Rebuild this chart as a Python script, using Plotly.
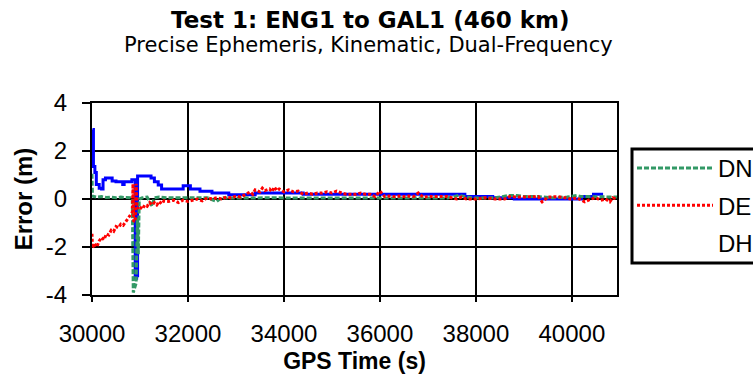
import plotly.graph_objects as go

# ---------------- data ----------------
DN_T = [
    30000, 30010, 30100, 30200, 30300, 30400, 30500, 30600, 30700, 30800,
    30840, 30860, 30890, 30920, 30945, 30965, 30985, 31050, 31150, 31250,
    31300, 31400, 31600, 31800, 32000, 32200, 32400, 32600, 32700, 32900,
    33200, 33500, 33800, 34100, 34400, 34700, 35000, 35300, 35600, 35900,
    36200, 36500, 36800, 37100, 37400, 37650, 37900, 38100, 38400, 38700,
    38850, 39000, 39300, 39600, 39900, 40100, 40200, 40350, 40600, 40940]
DN_V = [
    1.05, 0.12, 0.08, 0.1, 0.06, 0.08, 0.05, 0.08, 0.06, 0.05,
    0.0, -3.9, -3.7, -3.5, -0.8, -2.3, 0.0, 0.05, 0.08, -0.3,
    0.05, 0.08, 0.05, 0.05, 0.04, 0.05, 0.05, -0.1, 0.05, 0.04,
    0.05, 0.04, 0.05, 0.04, 0.04, 0.04, 0.04, 0.05, 0.04, 0.04,
    0.04, 0.04, 0.04, 0.05, 0.04, 0.15, 0.05, 0.04, 0.05, 0.15,
    0.15, 0.1, 0.1, 0.05, 0.08, 0.15, 0.1, 0.1, 0.1, 0.08]

DE_T = [
    30000, 30010, 30050, 30100, 30150, 30200, 30250, 30300, 30350, 30400,
    30450, 30500, 30550, 30600, 30650, 30700, 30750, 30800, 30840, 30855,
    30870, 30900, 30920, 30940, 30980, 31050, 31100, 31150, 31200, 31250,
    31300, 31350, 31400, 31450, 31500, 31600, 31700, 31800, 31900, 32000,
    32100, 32200, 32300, 32400, 32500, 32600, 32700, 32800, 32900, 33000,
    33100, 33200, 33300, 33350, 33400, 33500, 33550, 33600, 33700, 33750,
    33800, 33850, 33900, 34000, 34100, 34200, 34300, 34400, 34500, 34600,
    34700, 34800, 34900, 35000, 35100, 35200, 35300, 35400, 35500, 35600,
    35700, 35800, 35900, 36000, 36100, 36200, 36300, 36400, 36500, 36600,
    36700, 36800, 36900, 37000, 37200, 37400, 37600, 37700, 37800, 38000,
    38200, 38400, 38600, 38700, 38900, 39100, 39300, 39380, 39500, 39700,
    39900, 40000, 40100, 40270, 40400, 40500, 40600, 40700, 40790, 40850,
    40940]
DE_V = [
    -1.45, -2.05, -1.85, -2.0, -1.75, -1.6, -1.7, -1.45, -1.5, -1.3,
    -1.35, -1.15, -1.2, -1.05, -1.1, -0.95, -0.85, -0.65, -0.55, 0.63,
    -0.95, -0.9, 0.63, -0.4, -0.3, -0.42, -0.25, -0.3, -0.15, -0.25,
    -0.15, -0.25, -0.1, -0.2, -0.08, -0.1, -0.05, -0.15, -0.05, -0.1,
    -0.05, 0.0, -0.08, 0.05, 0.0, 0.05, 0.0, 0.08, 0.05, 0.12,
    0.08, 0.2, 0.3, 0.2, 0.38, 0.3, 0.45, 0.35, 0.42, 0.3,
    0.5, 0.35, 0.42, 0.3, 0.38, 0.3, 0.33, 0.2, 0.25, 0.2,
    0.25, 0.25, 0.3, 0.25, 0.33, 0.25, 0.2, 0.2, 0.2, 0.25,
    0.2, 0.2, 0.1, 0.33, 0.1, 0.12, 0.1, 0.12, 0.1, 0.12,
    0.1, 0.25, 0.08, 0.1, 0.1, 0.1, 0.0, 0.08, 0.0, 0.0,
    0.05, 0.0, 0.0, 0.1, 0.08, 0.1, 0.1, -0.12, 0.08, 0.1,
    0.05, 0.0, 0.05, -0.12, 0.0, 0.05, -0.05, 0.0, -0.12, 0.05,
    0.0]

DH_T = [
    30010, 30030, 30060, 30090, 30150, 30200, 30230, 30280, 30380, 30420,
    30500, 30600, 30640, 30670, 30800, 30830, 30880, 30900, 30930, 30950,
    31180, 31230, 31300, 31380, 31450, 31850, 31900, 32000, 32050, 32200,
    32250, 32450, 32500, 32750, 32850, 33350, 33400, 34300, 34400, 36000,
    36770, 37050, 37770, 38350, 38800, 40000, 40200, 40450, 40650]
DH_V = [
    2.9, 1.35, 1.1, 0.6, 0.45, 0.42, 0.8, 0.88, 0.88, 0.75,
    0.72, 0.72, 0.6, 0.72, 0.72, 0.8, 0.8, -3.3, -3.2, 0.96,
    0.96, 0.88, 0.72, 0.58, 0.42, 0.42, 0.55, 0.55, 0.42, 0.42,
    0.32, 0.32, 0.25, 0.25, 0.18, 0.18, 0.25, 0.25, 0.2, 0.2,
    0.2, 0.2, 0.1, 0.05, 0.0, 0.0, 0.1, 0.2, 0.2]

X_TICKS = [30000, 32000, 34000, 36000, 38000, 40000]
Y_TICKS = [-4, -2, 0, 2, 4]

TITLE = "Test 1: ENG1 to GAL1 (460 km)"
SUBTITLE = "Precise Ephemeris, Kinematic, Dual-Frequency"
X_TITLE = "GPS Time (s)"
Y_TITLE = "Error (m)"

GREEN = "rgb(51,153,102)"
RED = "rgb(255,0,0)"
BLUE = "rgb(0,0,255)"
SANS = "Liberation Sans, Arial, sans-serif"
WIDE = "DejaVu Sans, sans-serif"

# plot-area geometry in pixels (figure is 753 x 387)
L, R, T, B = 92, 617, 103, 295
PW, PH = R - L, B - T


def px(xp):
    return (xp - L) / PW


def py(yp):
    return (B - yp) / PH


fig = go.Figure()
# DH drawn first (underneath); its legend entry has no visible sample, as in the reference
fig.add_trace(go.Scatter(x=DH_T, y=DH_V, mode="lines", name="DH", showlegend=False,
                         line=dict(color=BLUE, width=3, shape="hv")))
fig.add_trace(go.Scatter(x=DN_T, y=DN_V, mode="lines", name="DN", legendgroup="a",
                         line=dict(color=GREEN, width=3, dash="5px,2px")))
fig.add_trace(go.Scatter(x=DE_T, y=DE_V, mode="lines", name="DE", legendgroup="b",
                         line=dict(color=RED, width=3, dash="3px,2px")))
fig.add_trace(go.Scatter(x=[None], y=[None], mode="lines", name="DH", legendgroup="c",
                         line=dict(color="rgba(0,0,0,0)", width=3)))

fig.update_layout(
    width=753, height=387,
    margin=dict(l=L, r=753 - R, t=T, b=387 - B, autoexpand=False),
    paper_bgcolor="white", plot_bgcolor="white",
    showlegend=True,
    legend=dict(x=px(632), y=py(146), xanchor="left", yanchor="top",
                bgcolor="rgba(0,0,0,0)", borderwidth=0,
                font=dict(family=SANS, size=24, color="black"),
                itemwidth=76, tracegroupgap=3, traceorder="grouped"),
    shapes=[
        # legend frame, running off the right edge as in the reference
        dict(type="rect", xref="paper", yref="paper",
             x0=px(632), x1=px(800), y0=py(263), y1=py(149),
             line=dict(color="black", width=3), fillcolor="white", layer="above"),
    ],
    annotations=[
        dict(text="<b>" + TITLE + "</b>", xref="paper", yref="paper",
             x=px(370), y=py(20), xanchor="center", yanchor="middle",
             showarrow=False, font=dict(family=WIDE, size=23, color="black")),
        dict(text=SUBTITLE, xref="paper", yref="paper",
             x=px(368), y=py(45), xanchor="center", yanchor="middle",
             showarrow=False, font=dict(family=WIDE, size=21, color="black")),
    ],
)

fig.update_xaxes(
    range=[30000, 40940], tickvals=X_TICKS, ticktext=[str(v) for v in X_TICKS],
    showgrid=True, gridcolor="black", gridwidth=2,
    showline=True, linecolor="black", linewidth=2, mirror=True,
    ticks="outside", ticklen=5, tickwidth=2, tickcolor="black",
    tickfont=dict(family=SANS, size=24, color="black"), ticklabelstandoff=11,
    zeroline=False,
    title=dict(text="<b>" + X_TITLE + "</b>", font=dict(family=SANS, size=23, color="black"), standoff=7),
)
fig.update_yaxes(
    range=[-4, 4], tickvals=Y_TICKS, ticktext=[str(v) for v in Y_TICKS],
    showgrid=True, gridcolor="black", gridwidth=2,
    showline=True, linecolor="black", linewidth=2, mirror=True,
    ticks="outside", ticklen=8, tickwidth=2, tickcolor="black",
    tickfont=dict(family=SANS, size=24, color="black"), ticklabelstandoff=10,
    zeroline=False,
    title=dict(text="<b>" + Y_TITLE + "</b>", font=dict(family=SANS, size=24, color="black"), standoff=6),
)

fig.write_html("out.html", config={"displayModeBar": False},
               post_script="document.body.style.margin='0';")
